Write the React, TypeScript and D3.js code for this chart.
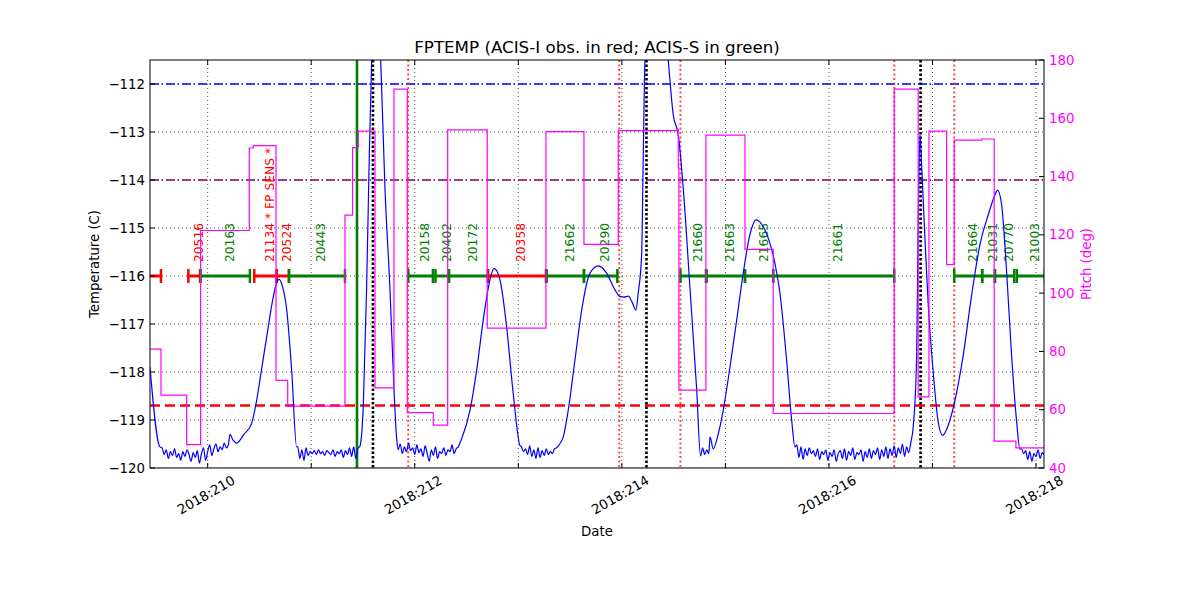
import React from 'react';
import * as d3 from 'd3';

const W = 1200;
const H = 600;
const M = { left: 150, right: 1044, top: 60, bottom: 468 };

// ---------- axes ----------
const xDomain: [number, number] = [209.443, 218.077];
const tempDomain: [number, number] = [-120, -111.5];
const pitchDomain: [number, number] = [40, 180];

const dayTicks = [210, 211, 212, 213, 214, 215, 216, 217, 218];
const dayLabels = ['2018:210', '', '2018:212', '', '2018:214', '', '2018:216', '', '2018:218'];
const tempTicks = [-120, -119, -118, -117, -116, -115, -114, -113, -112];
const pitchTicks = [40, 60, 80, 100, 120, 140, 160, 180];

// ---------- limit lines ----------
const planningLimit = -112;
const yellowLimit = -114;
const coldLimit = -118.7;

// ---------- vertical event lines (DOY) ----------
const greenEvents = [211.442];
const blackEvents = [211.596, 214.238, 216.885];
const redEvents = [211.937, 213.975, 214.566, 216.631, 217.21];

// ---------- observations ----------
const obsStart = [209.3, 209.813, 209.932, 210.45, 210.666, 210.785, 211.937, 212.2, 212.33, 212.707, 213.274, 213.634, 214.566, 214.819, 215.189, 215.462, 217.21, 217.48, 217.603, 217.815];
const obsStop = [209.549, 209.926, 210.408, 210.666, 210.785, 211.326, 212.175, 212.33, 212.707, 213.267, 213.634, 213.956, 214.812, 215.189, 215.462, 216.631, 217.48, 217.603, 217.79, 218.085];
const obsIds = ['', '20516', '20163', '21134 * FP SENS *', '20524', '20443', '20158', '20402', '20172', '20358', '21662', '20290', '21660', '21663', '21665', '21661', '21664', '21031', '20770', '21003'];
const obsInstr = ['I', 'I', 'S', 'I', 'I', 'S', 'S', 'S', 'S', 'I', 'S', 'S', 'S', 'S', 'S', 'S', 'S', 'S', 'S', 'S'];
const obsLevel = -116;
const obsLabelBase = -115.71;

// ---------- pitch (step) ----------
const pitchTimes = [209.443, 209.549, 209.797, 209.932, 210.402, 210.44, 210.66, 210.773, 211.326, 211.4, 211.454, 211.616, 211.799, 211.928, 212.179, 212.318, 212.7, 213.267, 213.634, 213.965, 214.532, 214.545, 214.551, 214.812, 215.189, 215.462, 216.631, 216.862, 216.966, 217.137, 217.21, 217.475, 217.596, 217.806, 218.077];
const pitchValues = [80.8, 65.0, 48.0, 121.5, 149.8, 150.6, 70.1, 61.2, 126.8, 149.9, 155.6, 67.5, 170.0, 59.0, 54.7, 156.0, 88.0, 155.4, 116.7, 155.8, 156.2, 143.0, 66.7, 154.2, 115.0, 58.7, 170.0, 64.4, 155.6, 109.8, 152.5, 152.9, 49.2, 46.9, 46.9];

// ---------- FPTEMP: smooth parts ----------
const tempKnotTimes = [
  209.443, 209.539, 210.215, 210.245, 210.28, 210.35, 210.425, 210.473, 210.52, 210.57, 210.634, 210.665, 210.691, 210.72, 210.763, 210.811, 210.859,
  211.471, 211.503, 211.535, 211.561, 211.584, 211.63, 211.671, 211.712, 211.76, 211.799, 211.825,
  212.453, 212.533, 212.598, 212.661, 212.726, 212.765, 212.823, 212.887, 212.951, 213.016,
  213.4, 213.434, 213.482, 213.547, 213.612, 213.692, 213.772, 213.853, 213.933, 213.982, 214.02, 214.062, 214.1, 214.136, 214.158, 214.191, 214.207, 214.223, 214.33, 214.448, 214.496, 214.545, 214.593, 214.658, 214.722, 214.76,
  214.851, 214.883, 214.93, 214.979, 215.044, 215.109, 215.172, 215.237, 215.295, 215.365, 215.43, 215.479, 215.527, 215.591, 215.64, 215.672,
  216.814, 216.847, 216.862, 216.879, 216.895, 216.927, 216.959, 217.007, 217.055, 217.098, 217.152, 217.207, 217.297, 217.378, 217.458, 217.538, 217.603, 217.629, 217.668, 217.716, 217.764, 217.813, 217.844,
];
const tempKnotValues = [
  -117.9, -119.56, -119.3, -119.42, -119.48, -119.3, -119.07, -118.59, -117.95, -117.27, -116.43, -116.15, -116.07, -116.2, -116.7, -117.96, -119.56,
  -119.54, -118.7, -116.25, -113.48, -111.5, -109.8, -111.5, -114.16, -116.25, -118.34, -119.38,
  -119.39, -118.8, -117.96, -116.92, -116.08, -115.84, -116.08, -117.06, -118.45, -119.53,
  -119.5, -119.35, -118.8, -117.75, -116.71, -115.94, -115.79, -115.94, -116.29, -116.43, -116.44, -116.42, -116.55, -116.71, -116.36, -115.56, -113.48, -111.5, -108.5, -111.5, -112.64, -113.06, -114.17, -116.26, -118.34, -119.75,
  -119.35, -119.6, -119.3, -118.8, -117.9, -116.92, -115.94, -115.14, -114.83, -114.97, -115.32, -115.74, -116.36, -117.75, -119.0, -119.56,
  -119.14, -117.7, -114.87, -113.06, -113.68, -115.21, -116.6, -118.0, -119.04, -119.32, -119.11, -118.69, -117.65, -116.4, -115.35, -114.73, -114.31, -114.21, -114.52, -115.91, -117.65, -119.04, -119.6,
];

// ---------- FPTEMP: noisy cold stretches (regular sampling) ----------
const noiseStep = 0.02;
const noiseStart = [209.56, 210.87, 211.84, 213.03, 214.78, 215.69, 217.86];
const noise1 = [-119.58, -119.72, -119.62, -119.8, -119.66, -119.74, -119.6, -119.78, -119.7, -119.84, -119.66, -119.76, -119.62, -119.72, -119.86, -119.68, -119.78, -119.64, -119.9, -119.7, -119.58, -119.84, -119.66, -119.52, -119.74, -119.6, -119.5, -119.66, -119.56, -119.62, -119.48, -119.58, -119.52];
const noise2 = [-119.56, -119.8, -119.62, -119.84, -119.58, -119.74, -119.66, -119.7, -119.64, -119.72, -119.62, -119.7, -119.66, -119.74, -119.64, -119.68, -119.72, -119.62, -119.76, -119.66, -119.7, -119.62, -119.78, -119.64, -119.72, -119.58, -119.76, -119.56, -119.8, -119.6];
const noise3 = [-119.62, -119.5, -119.7, -119.56, -119.66, -119.48, -119.64, -119.58, -119.72, -119.52, -119.68, -119.6, -119.76, -119.54, -119.7, -119.86, -119.62, -119.74, -119.56, -119.8, -119.66, -119.7, -119.58, -119.74, -119.62, -119.66, -119.52, -119.7, -119.6, -119.56, -119.46];
const noise4 = [-119.56, -119.66, -119.6, -119.72, -119.54, -119.76, -119.62, -119.8, -119.58, -119.78, -119.64, -119.74, -119.6, -119.72, -119.66, -119.7, -119.6, -119.58];
const noise5 = [-119.58, -119.72, -119.62, -119.7];
const noise6 = [-119.52, -119.78, -119.56, -119.82, -119.6, -119.74, -119.58, -119.7, -119.64, -119.76, -119.6, -119.82, -119.66, -119.72, -119.62, -119.84, -119.68, -119.76, -119.62, -119.86, -119.7, -119.64, -119.8, -119.6, -119.84, -119.66, -119.74, -119.58, -119.82, -119.68, -119.72, -119.62, -119.86, -119.66, -119.78, -119.6, -119.8, -119.64, -119.72, -119.58, -119.82, -119.62, -119.76, -119.56, -119.8, -119.6, -119.74, -119.54, -119.78, -119.58, -119.7, -119.5, -119.76, -119.56, -119.68, -119.48];
const noise7 = [-119.6, -119.7, -119.64, -119.82, -119.66, -119.86, -119.7, -119.76, -119.62, -119.8, -119.68, -119.72, -119.64];
const noiseSegments = [noise1, noise2, noise3, noise4, noise5, noise6, noise7];

const FONT = 'DejaVu Sans, sans-serif';

export default function App() {
  const x = d3.scaleLinear().domain(xDomain).range([M.left, M.right]);
  const yT = d3.scaleLinear().domain(tempDomain).range([M.bottom, M.top]);
  const yP = d3.scaleLinear().domain(pitchDomain).range([M.bottom, M.top]);

  const tempPts: [number, number][] = tempKnotTimes.map((t, i) => [t, tempKnotValues[i]]);
  noiseSegments.forEach((vals, k) =>
    vals.forEach((v, j) => tempPts.push([noiseStart[k] + j * noiseStep, v]))
  );
  tempPts.sort((a, b) => a[0] - b[0]);

  const tempLine = d3
    .line<[number, number]>()
    .x((d) => x(d[0]))
    .y((d) => yT(d[1]))
    .curve(d3.curveMonotoneX);

  const pitchPts: [number, number][] = pitchTimes.map((t, i) => [t, pitchValues[i]]);
  const pitchLine = d3
    .line<[number, number]>()
    .x((d) => x(d[0]))
    .y((d) => yP(d[1]))
    .curve(d3.curveStepAfter);

  const inX = (t: number) => t >= xDomain[0] && t <= xDomain[1];
  const obsColor = (k: string) => (k === 'I' ? '#ff0000' : '#008000');
  const fmt = d3.format('d');
  const yb = yT(obsLevel);

  return (
    <svg
      width={W}
      height={H}
      viewBox={`0 0 ${W} ${H}`}
      style={{ position: 'absolute', left: 0, top: 0, background: '#fff' }}
      fontFamily={FONT}
    >
      <defs>
        <clipPath id="plotClip">
          <rect x={M.left} y={M.top} width={M.right - M.left} height={M.bottom - M.top} />
        </clipPath>
      </defs>
      <rect x={0} y={0} width={W} height={H} fill="#fff" />

      <g clipPath="url(#plotClip)">
        {/* grid */}
        {dayTicks.map((d) => (
          <line key={'gx' + d} x1={x(d)} x2={x(d)} y1={M.top} y2={M.bottom} stroke="#000" strokeWidth={0.7} strokeDasharray="1,3" />
        ))}
        {tempTicks.map((t) => (
          <line key={'gy' + t} x1={M.left} x2={M.right} y1={yT(t)} y2={yT(t)} stroke="#000" strokeWidth={0.7} strokeDasharray="1,3" />
        ))}

        {/* limit lines */}
        <line x1={M.left} x2={M.right} y1={yT(planningLimit)} y2={yT(planningLimit)} stroke="#0000ff" strokeWidth={1.3} strokeDasharray="9,2.5,1.5,3" />
        <line x1={M.left} x2={M.right} y1={yT(yellowLimit)} y2={yT(yellowLimit)} stroke="#800080" strokeWidth={1.3} strokeDasharray="9,2.5,1.5,3" />
        <line x1={M.left} x2={M.right} y1={yT(coldLimit)} y2={yT(coldLimit)} stroke="#ff0000" strokeWidth={2.5} strokeDasharray="10,5" />

        {/* event lines */}
        {greenEvents.map((t) => (
          <line key={'ge' + t} x1={x(t)} x2={x(t)} y1={M.top} y2={M.bottom} stroke="#008000" strokeWidth={2.6} />
        ))}
        {redEvents.map((t) => (
          <line key={'re' + t} x1={x(t)} x2={x(t)} y1={M.top} y2={M.bottom} stroke="#ff2a2a" strokeOpacity={0.85} strokeWidth={2} strokeDasharray="2,2.5" />
        ))}
        {blackEvents.map((t) => (
          <line key={'be' + t} x1={x(t)} x2={x(t)} y1={M.top} y2={M.bottom} stroke="#000" strokeWidth={2.6} strokeDasharray="2.5,2" />
        ))}

        {/* observations */}
        {obsStart.map((s, i) => {
          const e = obsStop[i];
          const c = obsColor(obsInstr[i]);
          const x0 = x(Math.max(s, xDomain[0]));
          const x1 = x(Math.min(e, xDomain[1] + 0.05));
          return (
            <g key={'obs' + i}>
              <line x1={x0} x2={x1} y1={yb} y2={yb} stroke={c} strokeWidth={3} />
              {inX(s) && <line x1={x(s)} x2={x(s)} y1={yb - 7} y2={yb + 7} stroke={c} strokeWidth={2.5} />}
              {e <= xDomain[1] + 0.02 && <line x1={x(e)} x2={x(e)} y1={yb - 7} y2={yb + 7} stroke={c} strokeWidth={2.5} />}
            </g>
          );
        })}
        {obsStart.map((s, i) => {
          const mid = (s + obsStop[i]) / 2;
          if (!obsIds[i] || !inX(mid)) return null;
          const lx = x(mid) + 4.5;
          const ly = yT(obsLabelBase);
          return (
            <text
              key={'lab' + i}
              transform={`translate(${lx},${ly}) rotate(-90)`}
              fontSize={12.3}
              fill={obsColor(obsInstr[i])}
              textAnchor="start"
              dominantBaseline="central"
            >
              {obsIds[i]}
            </text>
          );
        })}

        {/* FPTEMP */}
        <path d={tempLine(tempPts) || ''} fill="none" stroke="#0000ff" strokeWidth={1.2} strokeLinejoin="round" />

        {/* Pitch */}
        <path d={pitchLine(pitchPts) || ''} fill="none" stroke="#ff00ff" strokeWidth={1.2} />
      </g>

      {/* frame */}
      <rect x={M.left} y={M.top} width={M.right - M.left} height={M.bottom - M.top} fill="none" stroke="#000" strokeWidth={1} />

      {/* ticks */}
      {dayTicks.map((d) => (
        <g key={'tx' + d}>
          <line x1={x(d)} x2={x(d)} y1={M.bottom} y2={M.bottom - 5} stroke="#000" strokeWidth={1} />
          <line x1={x(d)} x2={x(d)} y1={M.top} y2={M.top + 5} stroke="#000" strokeWidth={1} />
        </g>
      ))}
      {tempTicks.map((t) => (
        <line key={'ty' + t} x1={M.left} x2={M.left + 5} y1={yT(t)} y2={yT(t)} stroke="#000" strokeWidth={1} />
      ))}
      {pitchTicks.map((p) => (
        <line key={'tp' + p} x1={M.right - 5} x2={M.right} y1={yP(p)} y2={yP(p)} stroke="#000" strokeWidth={1} />
      ))}

      {/* tick labels */}
      {dayTicks.map((d, i) =>
        dayLabels[i] ? (
          <text
            key={'lx' + d}
            transform={`translate(${x(d) - 1.5},${495}) rotate(-30)`}
            fontSize={13.3}
            textAnchor="middle"
            dominantBaseline="central"
            fill="#000"
          >
            {dayLabels[i]}
          </text>
        ) : null
      )}
      {tempTicks.map((t) => (
        <text key={'ly' + t} x={M.left - 5} y={yT(t)} fontSize={13.3} textAnchor="end" dominantBaseline="central" fill="#000">
          {fmt(t)}
        </text>
      ))}
      {pitchTicks.map((p) => (
        <text key={'lp' + p} x={M.right + 5} y={yP(p)} fontSize={13.3} textAnchor="start" dominantBaseline="central" fill="#ff00ff">
          {fmt(p)}
        </text>
      ))}

      {/* axis titles */}
      <text x={(M.left + M.right) / 2} y={53} fontSize={16.7} textAnchor="middle" fill="#000">
        FPTEMP (ACIS-I obs. in red; ACIS-S in green)
      </text>
      <text x={(M.left + M.right) / 2} y={536} fontSize={13.3} textAnchor="middle" fill="#000">
        Date
      </text>
      <text
        transform={`translate(${99},${(M.top + M.bottom) / 2}) rotate(-90)`}
        fontSize={13.3}
        textAnchor="middle"
        fill="#000"
      >
        Temperature (C)
      </text>
      <text
        transform={`translate(${1091},${(M.top + M.bottom) / 2}) rotate(-90)`}
        fontSize={13.3}
        textAnchor="middle"
        fill="#ff00ff"
      >
        Pitch (deg)
      </text>
    </svg>
  );
}
